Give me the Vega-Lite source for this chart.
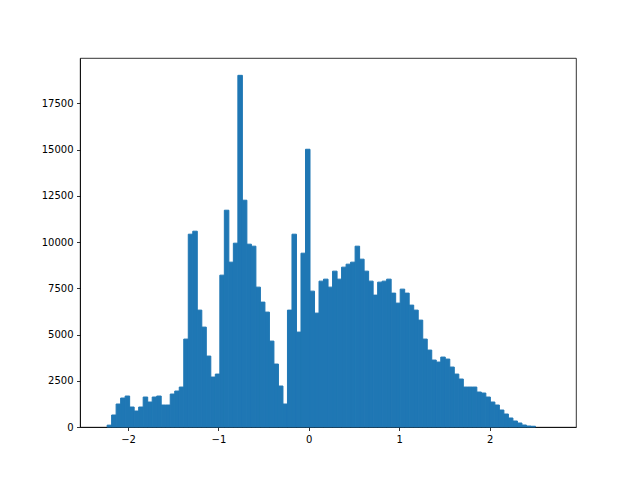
{
  "$schema": "https://vega.github.io/schema/vega-lite/v6.json",
  "width": 496,
  "height": 369,
  "autosize": {"type": "none"},
  "padding": {"left": 80, "top": 58, "right": 64, "bottom": 53},
  "background": "white",
  "config": {
    "view": {"stroke": "black", "strokeWidth": 0.8},
    "axis": {
      "grid": false,
      "labelFont": "DejaVu Sans",
      "labelFontSize": 10,
      "labelColor": "black",
      "tickColor": "black",
      "tickWidth": 0.8,
      "tickSize": 3.5,
      "labelPadding": 3.5,
      "domainColor": "black",
      "domainWidth": 0.8,
      "title": null
    }
  },
  "data": {
    "values": [
      {"start": -2.2810, "end": -2.2311, "count": 0},
      {"start": -2.2311, "end": -2.1812, "count": 100},
      {"start": -2.1812, "end": -2.1314, "count": 648},
      {"start": -2.1314, "end": -2.0815, "count": 1242},
      {"start": -2.0815, "end": -2.0316, "count": 1566},
      {"start": -2.0316, "end": -1.9817, "count": 1674},
      {"start": -1.9817, "end": -1.9318, "count": 1080},
      {"start": -1.9318, "end": -1.8820, "count": 864},
      {"start": -1.8820, "end": -1.8321, "count": 1080},
      {"start": -1.8321, "end": -1.7822, "count": 1620},
      {"start": -1.7822, "end": -1.7323, "count": 1350},
      {"start": -1.7323, "end": -1.6824, "count": 1620},
      {"start": -1.6824, "end": -1.6326, "count": 1674},
      {"start": -1.6326, "end": -1.5827, "count": 1188},
      {"start": -1.5827, "end": -1.5328, "count": 1188},
      {"start": -1.5328, "end": -1.4829, "count": 1782},
      {"start": -1.4829, "end": -1.4330, "count": 1944},
      {"start": -1.4330, "end": -1.3832, "count": 2160},
      {"start": -1.3832, "end": -1.3333, "count": 4753},
      {"start": -1.3333, "end": -1.2834, "count": 10424},
      {"start": -1.2834, "end": -1.2335, "count": 10586},
      {"start": -1.2335, "end": -1.1836, "count": 6319},
      {"start": -1.1836, "end": -1.1338, "count": 5401},
      {"start": -1.1338, "end": -1.0839, "count": 3835},
      {"start": -1.0839, "end": -1.0340, "count": 2700},
      {"start": -1.0340, "end": -0.9841, "count": 2862},
      {"start": -0.9841, "end": -0.9342, "count": 8210},
      {"start": -0.9342, "end": -0.8844, "count": 11721},
      {"start": -0.8844, "end": -0.8345, "count": 8912},
      {"start": -0.8345, "end": -0.7846, "count": 9938},
      {"start": -0.7846, "end": -0.7347, "count": 19013},
      {"start": -0.7347, "end": -0.6848, "count": 12261},
      {"start": -0.6848, "end": -0.6350, "count": 9884},
      {"start": -0.6350, "end": -0.5851, "count": 9776},
      {"start": -0.5851, "end": -0.5352, "count": 7562},
      {"start": -0.5352, "end": -0.4853, "count": 6752},
      {"start": -0.4853, "end": -0.4354, "count": 6212},
      {"start": -0.4354, "end": -0.3856, "count": 4645},
      {"start": -0.3856, "end": -0.3357, "count": 3403},
      {"start": -0.3357, "end": -0.2858, "count": 2215},
      {"start": -0.2858, "end": -0.2359, "count": 1242},
      {"start": -0.2359, "end": -0.1860, "count": 6319},
      {"start": -0.1860, "end": -0.1362, "count": 10424},
      {"start": -0.1362, "end": -0.0863, "count": 5131},
      {"start": -0.0863, "end": -0.0364, "count": 9398},
      {"start": -0.0364, "end": 0.0135, "count": 15016},
      {"start": 0.0135, "end": 0.0634, "count": 7346},
      {"start": 0.0634, "end": 0.1132, "count": 6157},
      {"start": 0.1132, "end": 0.1631, "count": 7886},
      {"start": 0.1631, "end": 0.2130, "count": 7994},
      {"start": 0.2130, "end": 0.2629, "count": 7562},
      {"start": 0.2629, "end": 0.3128, "count": 8426},
      {"start": 0.3128, "end": 0.3626, "count": 7994},
      {"start": 0.3626, "end": 0.4125, "count": 8642},
      {"start": 0.4125, "end": 0.4624, "count": 8804},
      {"start": 0.4624, "end": 0.5123, "count": 8912},
      {"start": 0.5123, "end": 0.5622, "count": 9776},
      {"start": 0.5622, "end": 0.6120, "count": 9074},
      {"start": 0.6120, "end": 0.6619, "count": 8426},
      {"start": 0.6619, "end": 0.7118, "count": 7886},
      {"start": 0.7118, "end": 0.7617, "count": 7130},
      {"start": 0.7617, "end": 0.8116, "count": 7832},
      {"start": 0.8116, "end": 0.8614, "count": 7886},
      {"start": 0.8614, "end": 0.9113, "count": 7994},
      {"start": 0.9113, "end": 0.9612, "count": 7238},
      {"start": 0.9612, "end": 1.0111, "count": 6698},
      {"start": 1.0111, "end": 1.0610, "count": 7454},
      {"start": 1.0610, "end": 1.1108, "count": 7238},
      {"start": 1.1108, "end": 1.1607, "count": 6590},
      {"start": 1.1607, "end": 1.2106, "count": 6319},
      {"start": 1.2106, "end": 1.2605, "count": 5779},
      {"start": 1.2605, "end": 1.3104, "count": 4753},
      {"start": 1.3104, "end": 1.3602, "count": 4159},
      {"start": 1.3602, "end": 1.4101, "count": 3619},
      {"start": 1.4101, "end": 1.4600, "count": 3511},
      {"start": 1.4600, "end": 1.5099, "count": 3781},
      {"start": 1.5099, "end": 1.5598, "count": 3673},
      {"start": 1.5598, "end": 1.6096, "count": 3241},
      {"start": 1.6096, "end": 1.6595, "count": 2862},
      {"start": 1.6595, "end": 1.7094, "count": 2593},
      {"start": 1.7094, "end": 1.7593, "count": 2160},
      {"start": 1.7593, "end": 1.8092, "count": 2160},
      {"start": 1.8092, "end": 1.8590, "count": 2160},
      {"start": 1.8590, "end": 1.9089, "count": 1890},
      {"start": 1.9089, "end": 1.9588, "count": 1836},
      {"start": 1.9588, "end": 2.0087, "count": 1620},
      {"start": 2.0087, "end": 2.0586, "count": 1350},
      {"start": 2.0586, "end": 2.1084, "count": 1188},
      {"start": 2.1084, "end": 2.1583, "count": 918},
      {"start": 2.1583, "end": 2.2082, "count": 702},
      {"start": 2.2082, "end": 2.2581, "count": 486},
      {"start": 2.2581, "end": 2.3080, "count": 324},
      {"start": 2.3080, "end": 2.3578, "count": 216},
      {"start": 2.3578, "end": 2.4077, "count": 108},
      {"start": 2.4077, "end": 2.4576, "count": 54},
      {"start": 2.4576, "end": 2.5075, "count": 40},
      {"start": 2.5075, "end": 2.5574, "count": 0},
      {"start": 2.5574, "end": 2.6072, "count": 0},
      {"start": 2.6072, "end": 2.6571, "count": 0},
      {"start": 2.6571, "end": 2.7070, "count": 0}
    ]
  },
  "transform": [{"filter": "datum.count > 0"}],
  "mark": {"type": "bar", "color": "#1f77b4", "binSpacing": 0, "stroke": "#1f77b4", "strokeWidth": 1, "strokeOpacity": 1},
  "encoding": {
    "x": {
      "field": "start",
      "type": "quantitative",
      "scale": {"domain": [-2.531, 2.956], "nice": false, "zero": false, "padding": 0},
      "axis": {"values": [-2, -1, 0, 1, 2], "format": "d"}
    },
    "x2": {"field": "end"},
    "y": {
      "field": "count",
      "type": "quantitative",
      "scale": {"domain": [0, 19950], "nice": false, "padding": 0},
      "axis": {"values": [0, 2500, 5000, 7500, 10000, 12500, 15000, 17500], "format": "d"}
    },
    "y2": {"datum": 0}
  }
}
